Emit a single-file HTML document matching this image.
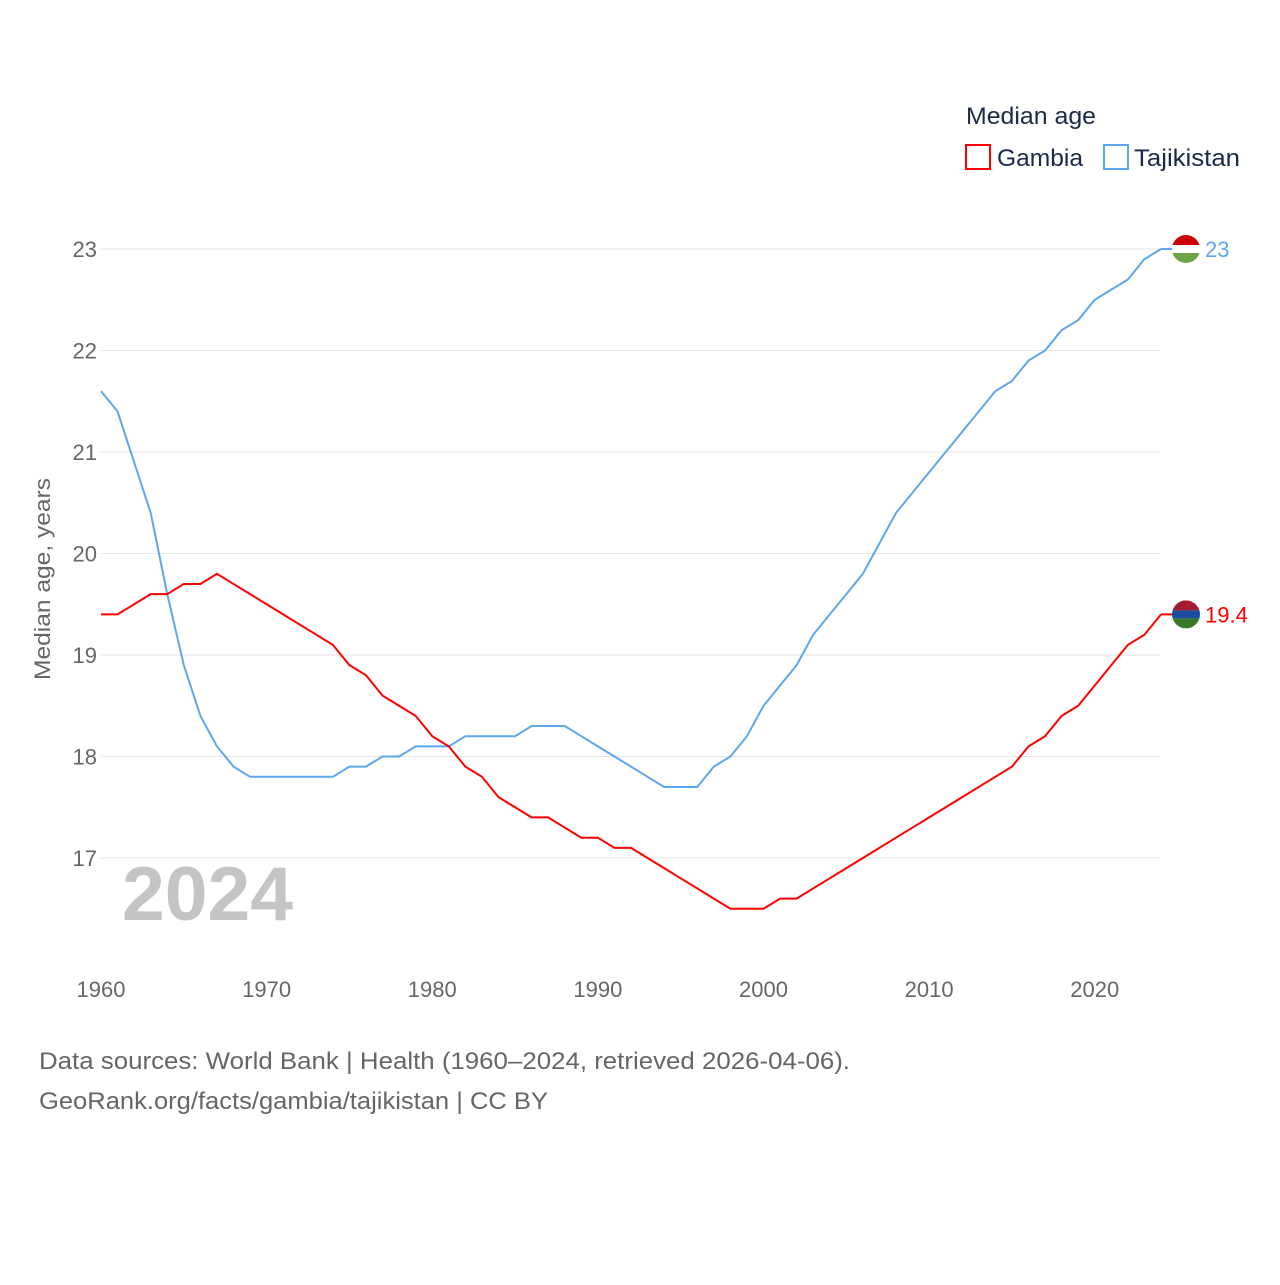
<!DOCTYPE html>
<html><head><meta charset="utf-8"><style>
body{margin:0;background:#fff;font-family:"Liberation Sans",sans-serif;}
svg text{font-family:"Liberation Sans",sans-serif;}
</style></head><body>
<svg width="1280" height="1280" xmlns="http://www.w3.org/2000/svg">
<g id="grid"></g>
<g id="yt"></g>
<g id="xt"></g>
<text x="122" y="920" font-size="76" font-weight="bold" fill="#c4c4c4" textLength="171" lengthAdjust="spacingAndGlyphs">2024</text>
<text transform="translate(50,579) rotate(-90)" text-anchor="middle" font-size="22" fill="#666" textLength="202" lengthAdjust="spacingAndGlyphs">Median age, years</text>
<g id="lines"></g>
<g>
<text x="966" y="124" font-size="24" fill="#1a2b4a" textLength="130" lengthAdjust="spacingAndGlyphs">Median age</text>
<rect x="966" y="145" width="24" height="24" fill="none" stroke="#f00" stroke-width="2"/>
<text x="997" y="166" font-size="24" fill="#1a2b4a" textLength="86" lengthAdjust="spacingAndGlyphs">Gambia</text>
<rect x="1104" y="145" width="24" height="24" fill="none" stroke="#5ea6ee" stroke-width="2"/>
<text x="1134" y="166" font-size="24" fill="#1a2b4a" textLength="106" lengthAdjust="spacingAndGlyphs">Tajikistan</text>
</g>
<g font-size="24" fill="#666">
<text x="39" y="1069" textLength="811" lengthAdjust="spacingAndGlyphs">Data sources: World Bank | Health (1960–2024, retrieved 2026-04-06).</text>
<text x="39" y="1109" textLength="509" lengthAdjust="spacingAndGlyphs">GeoRank.org/facts/gambia/tajikistan | CC BY</text>
</g>
</svg>
<script>
const years=[];for(let y=1960;y<=2024;y++)years.push(y);
const gambia=[19.4,19.4,19.5,19.6,19.6,19.7,19.7,19.8,19.7,19.6,19.5,19.4,19.3,19.2,19.1,18.9,18.8,18.6,18.5,18.4,18.2,18.1,17.9,17.8,17.6,17.5,17.4,17.4,17.3,17.2,17.2,17.1,17.1,17.0,16.9,16.8,16.7,16.6,16.5,16.5,16.5,16.6,16.6,16.7,16.8,16.9,17.0,17.1,17.2,17.3,17.4,17.5,17.6,17.7,17.8,17.9,18.1,18.2,18.4,18.5,18.7,18.9,19.1,19.2,19.4];
const tajikistan=[21.6,21.4,20.9,20.4,19.6,18.9,18.4,18.1,17.9,17.8,17.8,17.8,17.8,17.8,17.8,17.9,17.9,18.0,18.0,18.1,18.1,18.1,18.2,18.2,18.2,18.2,18.3,18.3,18.3,18.2,18.1,18.0,17.9,17.8,17.7,17.7,17.7,17.9,18.0,18.2,18.5,18.7,18.9,19.2,19.4,19.6,19.8,20.1,20.4,20.6,20.8,21.0,21.2,21.4,21.6,21.7,21.9,22.0,22.2,22.3,22.5,22.6,22.7,22.9,23.0];
const yTicks=[17,18,19,20,21,22,23];
const xTicks=[1960,1970,1980,1990,2000,2010,2020];
const NS="http://www.w3.org/2000/svg";
const X=y=>101+(y-1960)*1060/64;
const Y=v=>858-(v-17)*101.5;
function mk(t,a,p){const e=document.createElementNS(NS,t);for(const k in a)e.setAttribute(k,a[k]);p.appendChild(e);return e;}
const grid=document.getElementById('grid'),yt=document.getElementById('yt'),xt=document.getElementById('xt'),lines=document.getElementById('lines');
yTicks.forEach(v=>{
const l=mk('line',{x1:101,x2:1161,y1:Y(v),y2:Y(v),stroke:'#e6e6e6','stroke-width':1},grid);


const t=mk('text',{x:97,y:Y(v)+8,'text-anchor':'end','font-size':22,fill:'#666'},yt);t.textContent=v;


});
xTicks.forEach(v=>{
const t=mk('text',{x:X(v),y:997,'text-anchor':'middle','font-size':22,fill:'#666'},xt);t.textContent=v;


});
function series(vals,color,name,flagTop,flagMid,flagBot){
const p=mk('polyline',{points:vals.map((v,i)=>X(years[i])+','+Y(v)).join(' '),fill:'none',stroke:color,'stroke-width':2},lines);


const last=vals[vals.length-1];const cy=Y(last);
mk('line',{x1:1161,x2:1176,y1:cy,y2:cy,stroke:color,'stroke-width':2},lines);
const g=mk('g',{},lines);


const cp=mk('clipPath',{id:'c'+name},g);
mk('circle',{cx:1186,cy:cy,r:14},cp);
const cg=mk('g',{'clip-path':'url(#c'+name+')'},g);
mk('rect',{x:1172,y:cy-14,width:28,height:10,fill:flagTop},cg);
mk('rect',{x:1172,y:cy-4,width:28,height:8,fill:flagMid},cg);
mk('rect',{x:1172,y:cy+4,width:28,height:10,fill:flagBot},cg);
const t=mk('text',{x:1205,y:cy+8,'font-size':22,fill:color},lines);t.textContent=last;


}
series(tajikistan,'#5ea6ee','tajikistan','#cc0000','#ffffff','#6aa442');
series(gambia,'#ff0000','gambia','#a51c30','#1a4da0','#3a7728');
</script>
</body></html>
